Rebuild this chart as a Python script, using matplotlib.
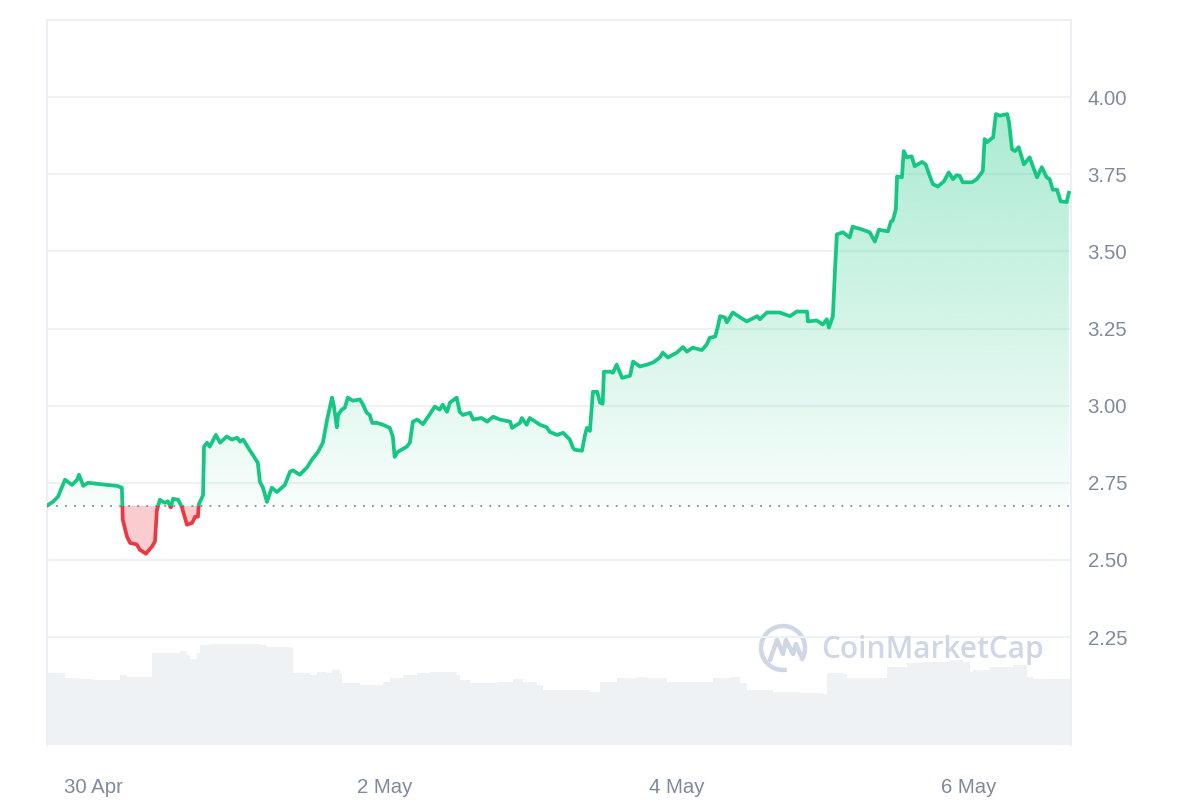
import numpy as np
import matplotlib
matplotlib.use("Agg")
import matplotlib.pyplot as plt
from matplotlib.patches import Polygon, Rectangle, Arc

# hours since 30 Apr 00:00
price_hours = [-7.4, -6.6, -5.75, -4.6, -3.45, -2.6, -2.3, -1.6, -0.8, 2.3, 3.95, 4.75, 4.9,
               5.6, 6.1, 7.2, 7.7, 8.7, 9.7, 10.2, 10.5, 11.0, 11.8, 12.3, 12.8, 13.15, 14.0,
               14.6, 15.45, 16.3, 16.8, 17.25, 17.4, 18.1, 18.25, 18.75, 19.2, 20.2, 20.9, 22.0,
               22.85, 23.7, 24.2, 24.7, 25.5, 26.3, 27.1, 27.45, 27.95, 28.6, 29.4, 30.25, 31.55,
               32.4, 32.9, 34.0, 35.2, 36.0, 37.0, 37.8, 38.5, 39.3, 39.6, 40.1, 40.3, 40.9, 41.4,
               41.9, 42.7, 43.9, 44.4, 45.0, 45.5, 45.9, 46.7, 47.7, 48.8, 49.3, 49.6, 50.1, 51.6,
               52.1, 52.6, 53.3, 54.25, 55.1, 56.2, 57.0, 57.5, 58.2, 58.7, 59.8, 60.3, 60.8, 62.0,
               62.5, 63.9, 64.8, 65.8, 66.9, 68.6, 68.9, 70.2, 70.5, 71.3, 71.8, 73.5, 74.6, 75.1,
               76.3, 77.3, 78.4, 78.9, 79.2, 80.4, 80.9, 81.2, 81.7, 82.2, 82.9, 83.35, 83.8, 84.0,
               85.0, 85.5, 86.1, 87.0, 88.3, 88.8, 89.9, 91.1, 92.1, 93.2, 93.7, 94.5, 96.0, 97.0,
               97.65, 98.6, 100.1, 100.9, 101.4, 102.3, 102.7, 103.1, 103.9, 104.2, 105.2, 106.4,
               107.5, 109.2, 109.65, 110.8, 112.9, 114.6, 115.7, 117.4, 117.55, 119.0, 120.0,
               120.65, 121.0, 121.65, 122.0, 122.3, 123.3, 124.4, 124.9, 126.6, 127.7, 128.55,
               129.2, 130.7, 131.2, 131.5, 132.0, 132.2, 133.0, 133.3, 133.8, 134.6, 135.1, 136.3,
               136.9, 137.6, 138.1, 138.9, 139.9, 140.7, 141.4, 142.0, 142.5, 143.0, 144.5, 145.3,
               146.3, 146.6, 147.0, 148.0, 148.45, 149.1, 150.3, 150.6, 151.1, 151.6, 152.2,
               153.05, 154.0, 155.2, 156.0, 156.8, 157.3, 157.8, 158.5, 159.1, 160.1, 160.45]
price = [2.678, 2.688, 2.705, 2.76, 2.743, 2.76, 2.776, 2.74, 2.75, 2.743, 2.74, 2.734, 2.63,
         2.575, 2.555, 2.55, 2.533, 2.52, 2.543, 2.56, 2.66, 2.695, 2.685, 2.69, 2.67, 2.698, 2.695,
         2.672, 2.614, 2.62, 2.64, 2.64, 2.68, 2.71, 2.867, 2.88, 2.867, 2.905, 2.88, 2.90,
         2.89, 2.896, 2.883, 2.89, 2.864, 2.84, 2.815, 2.753, 2.734, 2.688, 2.734, 2.72, 2.743,
         2.786, 2.79, 2.776, 2.80, 2.825, 2.85, 2.88, 2.955, 3.026, 3.00, 2.93, 2.97, 2.987, 2.993,
         3.026, 3.016, 3.02, 3.003, 2.977, 2.97, 2.944, 2.944, 2.938, 2.928, 2.90, 2.834, 2.85, 2.867,
         2.88, 2.948, 2.955, 2.94, 2.964, 2.997, 2.987, 3.003, 2.98, 3.01, 3.026, 2.98, 2.97, 2.977,
         2.955, 2.96, 2.948, 2.964, 2.955, 2.948, 2.928, 2.944, 2.96, 2.938, 2.96, 2.938, 2.93, 2.915,
         2.905, 2.912, 2.89, 2.864, 2.857, 2.854, 2.905, 2.928, 2.918, 3.045, 3.045, 3.01, 3.006, 3.11,
         3.11, 3.107, 3.133, 3.09, 3.097, 3.143, 3.127, 3.133, 3.14, 3.156, 3.172, 3.156, 3.172, 3.19,
         3.175, 3.188, 3.18, 3.198, 3.22, 3.224, 3.253, 3.29, 3.286, 3.27, 3.302, 3.286,
         3.273, 3.29, 3.28, 3.302, 3.302, 3.29, 3.305, 3.305, 3.273, 3.276, 3.263,
         3.28, 3.253, 3.29, 3.44, 3.555, 3.562, 3.545, 3.58, 3.57, 3.562, 3.532,
         3.57, 3.565, 3.597, 3.60, 3.636, 3.743, 3.74, 3.825, 3.805, 3.808, 3.776, 3.79,
         3.782, 3.743, 3.718, 3.71, 3.727, 3.756, 3.734, 3.747, 3.745, 3.724, 3.724, 3.734,
         3.76, 3.864, 3.854, 3.87, 3.945, 3.94, 3.945, 3.92, 3.831, 3.825, 3.838,
         3.782, 3.805, 3.74, 3.773, 3.74, 3.734, 3.70, 3.70, 3.662, 3.66, 3.69]
base_price = 2.675

vol_hours = [-7.6, -4.6, -2.1, 0, 4.4, 5.6, 9.4, 9.7, 12.2, 14.3, 15.5, 15.9, 17.1, 17.6, 19.2,
             27.5, 28.6, 32.7, 32.9, 35.7, 36.8, 38.5, 39.3, 40.6, 40.9, 43.9, 47.7, 48.8, 51.0,
             53.3, 55.4, 59.8, 60.3, 62.0, 66.4, 69.0, 70.7, 73.0, 74.0, 77.3, 81.7, 83.35, 86.1,
             89.4, 91.1, 94.4, 101.9, 104.7, 106.4, 107.5, 111.8, 116.2, 120.0, 120.65, 123.3,
             124.0, 129.9, 130.5, 133.8, 136.5, 140.9, 143.0, 144.2, 144.7, 147.5, 151.2, 153.2,
             153.5, 154.5, 160.8]
volume = [144, 134, 132, 130, 140, 136, 136, 184, 184, 188, 180, 172, 184, 200, 202,
          200, 196, 194, 144, 140, 146, 144, 150, 144, 124, 120, 126, 134, 140,
          144, 146, 140, 130, 124, 126, 132, 126, 120, 110, 110, 106, 126, 134,
          136, 134, 126, 134, 136, 124, 110, 106, 104, 102, 144, 142,
          134, 134, 156, 164, 166, 170, 166, 146, 150, 156, 160, 160,
          136, 132, 130]

tick_hours = [0, 48, 96, 144]
tick_labels = ["30 Apr", "2 May", "4 May", "6 May"]
price_ticks = [2.25, 2.50, 2.75, 3.00, 3.25, 3.50, 3.75, 4.00]

GREEN = "#16c784"
RED = "#ea3943"
GRID = "#eff2f5"
LABEL = "#808a9d"

plt.rcParams["font.family"] = ["Liberation Sans", "DejaVu Sans"]

t = np.array(price_hours)
p = np.array(price)
xmin, xmax = -7.56, 160.8
ymin, ymax = 1.90, 4.25

fig = plt.figure(figsize=(12, 8), dpi=100)
ax = fig.add_axes([47 / 1200, 55 / 800, 1024 / 1200, 725 / 800])
ax2 = ax.twinx()

# volume in the background
ax2.fill_between(vol_hours, volume, 0, step="post", color="#eff2f5", linewidth=0)
ax2.set_ylim(0, 1450)
ax2.set_yticks([])
for s in ax2.spines.values():
    s.set_visible(False)
ax.set_zorder(ax2.get_zorder() + 1)
ax.patch.set_visible(False)

# green gradient above baseline, clipped by area under the line
grad = np.linspace(0.03, 0.36, 256).reshape(-1, 1)
rgba = np.zeros((256, 1, 4))
rgba[..., :3] = matplotlib.colors.to_rgb(GREEN)
rgba[..., 3] = grad
im = ax.imshow(rgba, extent=[xmin, xmax, base_price, p.max()], origin="lower",
               aspect="auto", zorder=1, interpolation="bilinear")
verts = [(t[0], base_price)] + list(zip(t, p)) + [(t[-1], base_price)]
clip = Polygon(verts, closed=True, facecolor="none", edgecolor="none")
ax.add_patch(clip)
im.set_clip_path(clip)

# red fill below baseline
ax.fill_between(t, p, base_price, where=p < base_price, interpolate=True,
                color=RED, alpha=0.25, linewidth=0, zorder=1)

# line, green above / red below baseline
gl, = ax.plot(t, p, color=GREEN, lw=2.7, zorder=3, solid_joinstyle="round")
rl, = ax.plot(t, p, color=RED, lw=2.7, zorder=3, solid_joinstyle="round")
up = Rectangle((xmin, base_price), xmax - xmin, 10, transform=ax.transData)
dn = Rectangle((xmin, base_price - 10), xmax - xmin, 10, transform=ax.transData)
gl.set_clip_path(up)
rl.set_clip_path(dn)

ax.axhline(base_price, color=LABEL, lw=1.3, ls=(0, (1, 4)), zorder=2)

ax.set_xlim(xmin, xmax)
ax.set_ylim(ymin, ymax)
ax.yaxis.tick_right()
ax.set_yticks(price_ticks)
ax.set_yticklabels(["%.2f" % v for v in price_ticks])
ax.set_xticks(tick_hours)
ax.set_xticklabels(tick_labels)
ax.tick_params(axis="both", length=0, labelsize=14.7, labelcolor=LABEL)
ax.tick_params(axis="y", pad=12)
ax.tick_params(axis="x", pad=24)
ax.grid(axis="y", color=GRID, lw=1.5, zorder=0)
ax.set_axisbelow(True)
for side in ["left", "right", "top"]:
    ax.spines[side].set_color("#eceff3")
    ax.spines[side].set_linewidth(1.5)
ax.spines["bottom"].set_visible(False)

# watermark
WM = "#cfd6e4"
fig.text(821 / 1200, 1 - 650 / 800, "CoinMarketCap", fontsize=21.5, fontweight="semibold",
         family=["Open Sans", "DejaVu Sans"], color=WM, va="center", ha="left")
logo = Arc((7.83, 1.52), 0.44, 0.44, theta1=-35, theta2=280, transform=fig.dpi_scale_trans,
           color=WM, lw=3.2)
fig.add_artist(logo)
mx = [7.70, 7.77, 7.83, 7.86, 7.93, 7.96, 8.01]
my = [1.40, 1.60, 1.46, 1.60, 1.46, 1.56, 1.44]
fig.add_artist(matplotlib.lines.Line2D(mx, my, transform=fig.dpi_scale_trans,
                                       color=WM, lw=3.2, solid_joinstyle="round",
                                       solid_capstyle="round"))

fig.savefig("out.png", dpi=100)
